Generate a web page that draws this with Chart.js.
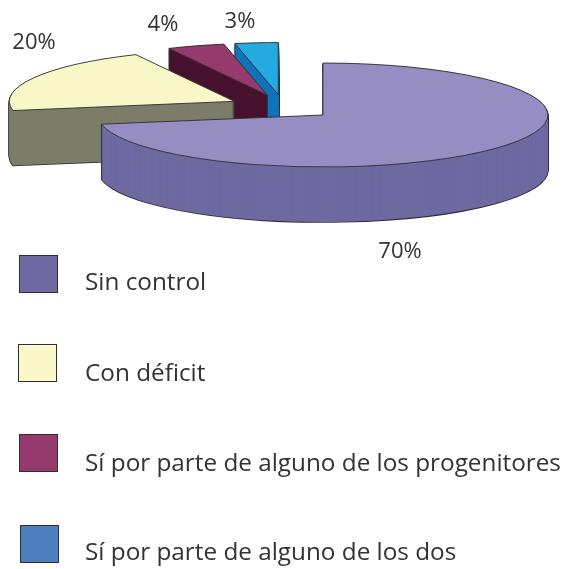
<!DOCTYPE html>
<html>
<head>
<meta charset="utf-8">
<style>html,body{margin:0;padding:0;background:#fff}canvas{display:block}</style>
<script src="https://cdn.jsdelivr.net/npm/chart.js@4"></script>
</head>
<body>
<canvas id="c" width="563" height="569"></canvas>
<script>
const categories = ["Sin control","Con déficit","Sí por parte de alguno de los progenitores","Sí por parte de alguno de los dos"];
const values = [70,20,4,3];
const topColors = ["#968DC3","#F8F7C8","#96396C","#25A9E0"];
const wallColors = ["#6F69A1","#7C7D69","#47122F","#1072BA"];
const legendColors = ["#6F69A1","#FAF8C8","#96396C","#4D7FBD"];
const drawOrder = [3,2,1,0];
const sliceNudgeX = [0,1,3,2];
const percentAnchors = [[400,252],[34,43],[163,25],[240,22]];
const legendBoxes = [[19,255,39,38],[18,344,39,38],[19,434,39,38],[20,525,39,38]];
const legendTextY = [283,374,464,553];
const legendTextX = 85;
const FONT = '"Open Sans"';
const INK = "#333333";
const LINE = "#2f2f33";

const EXPLODE = 54, RADIUS = 225, SQUASH = 52/225, DEPTH = 55, CENTER_Y = 107;

function drawArc(ctx, el, fill, stroke, width){
  const saved = el.options;
  const o = Object.create(saved);
  o.backgroundColor = fill;
  o.borderColor = stroke;
  o.borderWidth = width;
  o.borderAlign = "center";
  el.options = o;
  el.draw(ctx);
  el.options = saved;
}

const pie3d = {
  id:"pie3d",
  beforeDatasetsDraw(chart){
    const ctx = chart.ctx, meta = chart.getDatasetMeta(0);
    const cy = (chart.chartArea.top+chart.chartArea.bottom)/2;
    const nativeStroke = ctx.stroke;
    // keep outlines uniform in width under the squashed transform
    ctx.stroke = function(){
      ctx.save(); ctx.setTransform(1,0,0,1,0,0); nativeStroke.call(ctx); ctx.restore();
    };
    ctx.save();
    ctx.translate(0,CENTER_Y);
    ctx.scale(1,SQUASH);
    ctx.translate(0,-cy);
    drawOrder.forEach(i=>{
      const el = meta.data[i];
      const half = (el.startAngle+el.endAngle)/2;
      ctx.save();
      ctx.translate(Math.cos(half)*EXPLODE+sliceNudgeX[i],Math.sin(half)*EXPLODE);
      for(let pass=0;pass<2;pass++){
        for(let k=DEPTH;k>=1;k--){
          ctx.save();
          ctx.translate(0,k/SQUASH);
          if(pass===0) drawArc(ctx,el,LINE,LINE,1.6);
          else drawArc(ctx,el,wallColors[i],wallColors[i],0);
          ctx.restore();
        }
      }
      drawArc(ctx,el,topColors[i],LINE,0.9);
      ctx.restore();
    });
    ctx.restore();
    delete ctx.stroke;
    return false;
  },
  afterDraw(chart){
    const ctx = chart.ctx;
    ctx.save();
    ctx.fillStyle = INK;
    ctx.textBaseline = "middle";
    ctx.font = "22px "+FONT;
    ctx.textAlign = "center";
    values.forEach((v,i)=>ctx.fillText(v+"%",percentAnchors[i][0],percentAnchors[i][1]));
    ctx.textAlign = "left";
    ctx.font = "24.3px "+FONT;
    categories.forEach((t,i)=>{
      const b = legendBoxes[i];
      ctx.fillStyle = legendColors[i];
      ctx.strokeStyle = LINE;
      ctx.lineWidth = 1;
      ctx.fillRect(b[0],b[1],b[2],b[3]);
      ctx.strokeRect(b[0]+.5,b[1]+.5,b[2]-1,b[3]-1);
      ctx.fillStyle = INK;
      ctx.fillText(t,legendTextX,legendTextY[i]);
    });
    ctx.restore();
  }
};

new Chart(document.getElementById("c"),{
  type:"pie",
  data:{labels:categories,datasets:[{data:values,backgroundColor:topColors,radius:RADIUS,borderWidth:0}]},
  options:{
    responsive:false,animation:false,
    layout:{padding:0},
    plugins:{legend:{display:false},tooltip:{enabled:false}}
  },
  plugins:[pie3d]
});
</script>
</body>
</html>
